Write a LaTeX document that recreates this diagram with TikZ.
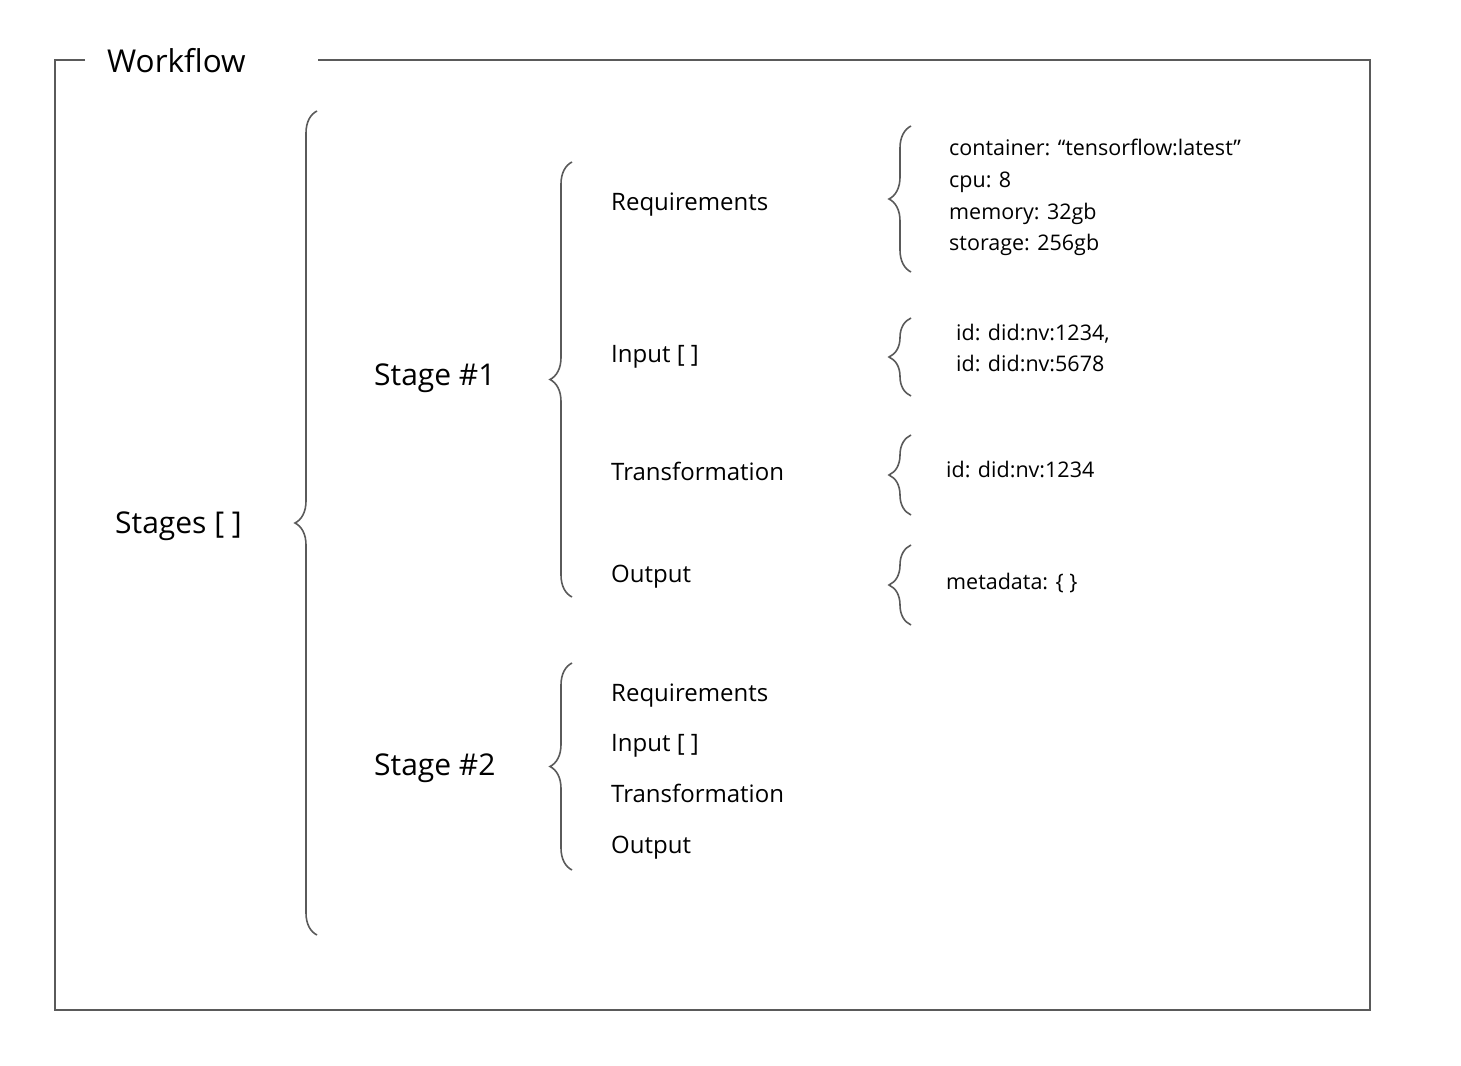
\documentclass[tikz,border=0pt]{standalone}
\usepackage{fontspec}
\setmainfont{Open Sans}
\usetikzlibrary{decorations.pathreplacing}
\definecolor{linegray}{HTML}{5A5A5A}
\begin{document}
\begin{tikzpicture}[
		x=1pt, y=-1pt,
			frame/.style = {
				draw=linegray,
				line width=1.8pt
			},
			curly/.style = {
				draw=linegray,
				line width=1.6pt,
				decorate,
				decoration={brace, amplitude=22pt}
			},
			title/.style = {anchor=base west, inner sep=0pt, font=\fontsize{31.5}{38}\selectfont},
			big/.style = {anchor=base west, inner sep=0pt, font=\fontsize{30}{36}\selectfont},
			item/.style = {anchor=base west, inner sep=0pt, font=\fontsize{24}{29}\selectfont},
			small/.style = {anchor=base west, inner sep=0pt, font=\fontsize{21.5}{26}\selectfont}
		]
		\useasboundingbox (0,0) rectangle (1461,1065);
		% frame with its title
		\node[title] (wf) at (107,73) {Workflow};
		\draw[frame] (85,60) -- (55,60) -- (55,1010) -- (1370,1010) -- (1370,60) -- (318,60);
		% level 1
		\node[big] (stages) at (115,533) {Stages [ ]};
		\coordinate (Ss) at (317,935);
		\coordinate (Sn) at (317,111);
		\draw[curly] (Ss) -- (Sn);
		% level 2
		\node[big] (st1) at (374,385) {Stage \#1};
		\node[big] (st2) at (374,775) {Stage \#2};
		\coordinate (As) at (572,597);
		\coordinate (An) at (572,162);
		\draw[curly] (As) -- (An);
		\coordinate (Bs) at (572,870);
		\coordinate (Bn) at (572,663);
		\draw[curly] (Bs) -- (Bn);
		% stage 1 items
		\node[item] (req1) at (611,210) {Requirements};
		\node[item] (in1)  at (611,362) {Input [ ]};
		\node[item] (tr1)  at (611,480) {Transformation};
		\node[item] (out1) at (611,582) {Output};
		% stage 2 items
		\node[item] (req2) at (611,701) {Requirements};
		\node[item] (in2)  at (611,751) {Input [ ]};
		\node[item] (tr2)  at (611,802) {Transformation};
		\node[item] (out2) at (611,853) {Output};
		% level 3
		\coordinate (Rs) at (911,272);
		\coordinate (Rn) at (911,126);
		\draw[curly] (Rs) -- (Rn);
		\coordinate (Is) at (911,396);
		\coordinate (In) at (911,318);
		\draw[curly] (Is) -- (In);
		\coordinate (Ts) at (911,515);
		\coordinate (Tn) at (911,435);
		\draw[curly] (Ts) -- (Tn);
		\coordinate (Os) at (911,625);
		\coordinate (On) at (911,545);
		\draw[curly] (Os) -- (On);
		\node[small] (cont) at (949,155) {container: “tensorflow:latest”};
		\node[small] (cpu)  at (949,187) {cpu: 8};
		\node[small] (mem)  at (949,219) {memory: 32gb};
		\node[small] (sto)  at (949,250) {storage: 256gb};
		\node[small] (ida)  at (956,340) {id: did:nv:1234,};
		\node[small] (idb)  at (956,371) {id: did:nv:5678};
		\node[small] (idt)  at (946,477) {id: did:nv:1234};
		\node[small] (meta) at (946,589) {metadata: \{ \}};
	\end{tikzpicture}
\end{document}
